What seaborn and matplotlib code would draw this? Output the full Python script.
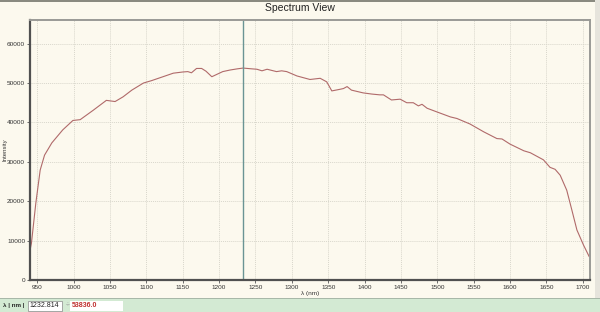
import matplotlib
matplotlib.use("Agg")
import matplotlib.pyplot as plt
from matplotlib.patches import Rectangle
import seaborn as sns
import pandas as pd

# ---- data ----
wavelength_nm = [940, 942, 948, 954, 960, 970, 985, 999, 1009, 1027, 1045, 1057, 1068,
                 1080, 1096, 1107, 1126, 1137, 1150, 1157, 1162, 1169, 1176, 1182, 1190,
                 1205, 1215, 1225, 1233, 1245, 1252, 1259, 1266, 1279, 1286, 1293, 1307,
                 1325, 1339, 1348, 1355, 1366, 1371, 1376, 1382, 1398, 1410, 1421, 1426,
                 1437, 1449, 1458, 1467, 1474, 1479, 1486, 1499, 1518, 1527, 1545, 1564,
                 1582, 1589, 1600, 1619, 1628, 1646, 1655, 1662, 1669, 1678, 1685, 1692,
                 1701, 1709]
intensity = [7500, 9400, 19500, 27900, 31700, 34800, 38100, 40500, 40700, 43100, 45600,
             45300, 46500, 48200, 50000, 50600, 51800, 52500, 52800, 52900, 52600, 53700,
             53700, 53000, 51600, 52900, 53300, 53600, 53800, 53600, 53500, 53100, 53500,
             52900, 53100, 52900, 51800, 50900, 51200, 50300, 48000, 48400, 48600, 49100,
             48200, 47500, 47200, 47000, 47000, 45700, 45900, 45000, 45000, 44200, 44600,
             43600, 42700, 41400, 41000, 39600, 37600, 35900, 35800, 34500, 32800, 32300,
             30500, 28600, 28100, 26600, 22800, 17800, 12700, 8900, 5900]
x_ticks = [950, 1000, 1050, 1100, 1150, 1200, 1250, 1300, 1350, 1400, 1450, 1500,
           1550, 1600, 1650, 1700]
y_ticks = [0, 10000, 20000, 30000, 40000, 50000, 60000]
cursor_nm = 1232.814
cursor_value = "53836.0"
title = "Spectrum View"
x_label = "λ (nm)"
y_label = "Intensity"

df = pd.DataFrame({"wl": wavelength_nm, "I": intensity})

sns.set_theme(style="white")
plt.rcParams["font.family"] = ["Liberation Sans", "DejaVu Sans"]

bg = "#fcf9ee"
fig = plt.figure(figsize=(6.0, 3.12), dpi=100, facecolor=bg)
ax = fig.add_axes([30 / 600, 1 - 280 / 312, 560 / 600, 260 / 312])
ax.set_facecolor(bg)

sns.lineplot(data=df, x="wl", y="I", ax=ax, color="#b06a6a", linewidth=0.8)
ax.axvline(cursor_nm, color="#6a9494", linewidth=1.0)

ax.set_xlim(940, 1710)
ax.set_ylim(0, 66000)
ax.set_xticks(x_ticks)
ax.set_yticks(y_ticks)
ax.set_xticklabels([str(t) for t in x_ticks], fontsize=4.6, color="#333333")
ax.set_yticklabels([str(t) for t in y_ticks], fontsize=4.6, color="#333333")
ax.tick_params(axis="both", length=2, width=0.6, pad=1.5, colors="#555555",
               labelcolor="#333333", direction="out", bottom=True, left=True)
ax.grid(True, color="#d9d7cc", linestyle=(0, (1, 1)), linewidth=0.7)
ax.set_xlabel("")
ax.set_ylabel("")

for s in ["left", "bottom"]:
    ax.spines[s].set_color("#505050")
    ax.spines[s].set_linewidth(1.6)
for s in ["top", "right"]:
    ax.spines[s].set_color("#9a9a96")
    ax.spines[s].set_linewidth(1.4)

fig.text(0.5, 1 - 8 / 312, title, ha="center", va="center", fontsize=7.5, color="#222222")
fig.text(310 / 600, 1 - 293 / 312, x_label, ha="center", va="center", fontsize=4.6, color="#333333")
fig.text(5 / 600, 1 - 150 / 312, y_label, ha="center", va="center", fontsize=4.3,
         rotation=90, color="#333333")

# top border and right edge
fig.patches.append(Rectangle((0, 1 - 1.5 / 312), 1, 1.5 / 312, transform=fig.transFigure,
                             facecolor="#8a8a80", edgecolor="none"))
fig.patches.append(Rectangle((595 / 600, 0), 5 / 600, 1, transform=fig.transFigure,
                             facecolor="#e6e4dc", edgecolor="none"))

# bottom status strip
fig.patches.append(Rectangle((0, 0), 1, 14 / 312, transform=fig.transFigure,
                             facecolor="#d3ead3", edgecolor="none"))
fig.patches.append(Rectangle((0, 1 - 299 / 312), 1, 0.8 / 312, transform=fig.transFigure,
                             facecolor="#a8b8a8", edgecolor="none"))
fig.patches.append(Rectangle((28 / 600, 1.5 / 312), 34 / 600, 10 / 312, transform=fig.transFigure,
                             facecolor="white", edgecolor="#888888", linewidth=0.5))
fig.patches.append(Rectangle((70 / 600, 1.5 / 312), 53 / 600, 10 / 312, transform=fig.transFigure,
                             facecolor="white", edgecolor="none"))
fig.text(3 / 600, 6.5 / 312, "λ | nm |", ha="left", va="center", fontsize=4.5,
         color="#222222", fontweight="bold")
fig.text(29.5 / 600, 6.5 / 312, f"{cursor_nm:.3f}", ha="left", va="center", fontsize=5,
         color="#222222")
fig.text(66 / 600, 6.5 / 312, "÷", ha="left", va="center", fontsize=5, color="#999999")
fig.text(72 / 600, 6.5 / 312, cursor_value, ha="left", va="center", fontsize=5,
         color="#c03030", fontweight="bold")

fig.savefig("out.png", dpi=100, facecolor=bg)
